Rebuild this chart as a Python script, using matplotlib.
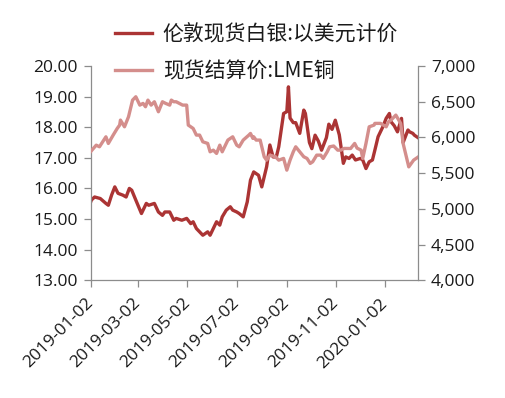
import matplotlib
matplotlib.use('Agg')
import matplotlib.pyplot as plt
import pandas as pd
from matplotlib.ticker import FuncFormatter, MultipleLocator
from matplotlib.font_manager import FontProperties

# 伦敦现货白银 (USD/oz), left axis
silver_dates = ['2019-01-02', '2019-01-03', '2019-01-07', '2019-01-14', '2019-01-21', '2019-01-24',
                '2019-01-28', '2019-02-01', '2019-02-05', '2019-02-11', '2019-02-15', '2019-02-19',
                '2019-02-22', '2019-02-27', '2019-03-06', '2019-03-12', '2019-03-15', '2019-03-22',
                '2019-03-27', '2019-04-01', '2019-04-04', '2019-04-10', '2019-04-15', '2019-04-18',
                '2019-04-25', '2019-05-01', '2019-05-06', '2019-05-09', '2019-05-13', '2019-05-17',
                '2019-05-21', '2019-05-27', '2019-05-30', '2019-06-03', '2019-06-07', '2019-06-11',
                '2019-06-14', '2019-06-19', '2019-06-24', '2019-06-27', '2019-07-02', '2019-07-05',
                '2019-07-10', '2019-07-15', '2019-07-19', '2019-07-23', '2019-07-29', '2019-08-02',
                '2019-08-05', '2019-08-08', '2019-08-12', '2019-08-16', '2019-08-20', '2019-08-23',
                '2019-08-29', '2019-09-02', '2019-09-04', '2019-09-06', '2019-09-10', '2019-09-13',
                '2019-09-18', '2019-09-23', '2019-09-25', '2019-09-30', '2019-10-03', '2019-10-07',
                '2019-10-11', '2019-10-15', '2019-10-21', '2019-10-24', '2019-10-28', '2019-11-01',
                '2019-11-06', '2019-11-11', '2019-11-14', '2019-11-18', '2019-11-22', '2019-11-26',
                '2019-12-02', '2019-12-05', '2019-12-09', '2019-12-13', '2019-12-17', '2019-12-20',
                '2019-12-24', '2019-12-30', '2020-01-03', '2020-01-07', '2020-01-09', '2020-01-13',
                '2020-01-17', '2020-01-22', '2020-01-24', '2020-01-30', '2020-02-01', '2020-02-05',
                '2020-02-07', '2020-02-12']
silver_vals = [15.55, 15.62, 15.72, 15.67, 15.51, 15.45,
               15.78, 16.05, 15.84, 15.78, 15.72, 16.00,
               15.94, 15.62, 15.18, 15.51, 15.45, 15.51,
               15.23, 15.12, 15.23, 15.23, 14.96, 15.02,
               14.96, 15.02, 14.85, 14.91, 14.69, 14.58,
               14.47, 14.58, 14.47, 14.69, 14.91, 14.80,
               15.07, 15.29, 15.40, 15.29, 15.23, 15.18,
               15.07, 15.56, 16.27, 16.54, 16.43, 16.05,
               16.38, 16.71, 17.42, 17.03, 17.03, 17.36,
               18.45, 18.51, 19.32, 18.30, 18.15, 18.15,
               17.80, 18.56, 18.45, 17.50, 17.30, 17.74,
               17.55, 17.25, 17.66, 18.10, 17.93, 18.23,
               17.75, 16.82, 17.03, 16.98, 17.09, 16.93,
               16.98, 16.93, 16.65, 16.87, 16.93, 17.25,
               17.69, 18.02, 18.29, 18.45, 18.18, 18.05,
               17.85, 18.29, 17.50, 17.91, 17.85, 17.80,
               17.74, 17.65]

# 现货结算价:LME铜 (USD/t), right axis
copper_dates = ['2019-01-02', '2019-01-09', '2019-01-13', '2019-01-21', '2019-01-24', '2019-01-30',
                '2019-02-04', '2019-02-07', '2019-02-08', '2019-02-13', '2019-02-18', '2019-02-21',
                '2019-02-23', '2019-02-27', '2019-03-04', '2019-03-08', '2019-03-11', '2019-03-14',
                '2019-03-18', '2019-03-22', '2019-03-27', '2019-04-01', '2019-04-05', '2019-04-10',
                '2019-04-12', '2019-04-15', '2019-04-18', '2019-04-26', '2019-05-01', '2019-05-03',
                '2019-05-09', '2019-05-13', '2019-05-17', '2019-05-21', '2019-05-27', '2019-05-30',
                '2019-06-03', '2019-06-07', '2019-06-11', '2019-06-14', '2019-06-21', '2019-06-27',
                '2019-07-02', '2019-07-05', '2019-07-10', '2019-07-17', '2019-07-19', '2019-07-22',
                '2019-07-23', '2019-07-26', '2019-07-31', '2019-08-05', '2019-08-08', '2019-08-12',
                '2019-08-19', '2019-08-23', '2019-08-29', '2019-09-02', '2019-09-06', '2019-09-10',
                '2019-09-13', '2019-09-18', '2019-09-23', '2019-09-27', '2019-10-01', '2019-10-04',
                '2019-10-09', '2019-10-14', '2019-10-17', '2019-10-22', '2019-10-25', '2019-10-30',
                '2019-11-04', '2019-11-08', '2019-11-12', '2019-11-20', '2019-11-25', '2019-11-28',
                '2019-12-03', '2019-12-05', '2019-12-09', '2019-12-13', '2019-12-19', '2019-12-20',
                '2019-12-27', '2020-01-03', '2020-01-06', '2020-01-09', '2020-01-15', '2020-01-21',
                '2020-01-24', '2020-01-31', '2020-02-06', '2020-02-12']
copper_vals = [5800, 5892, 5869, 6009, 5916, 6033,
               6126, 6173, 6243, 6149, 6290, 6430,
               6523, 6570, 6453, 6477, 6430, 6523,
               6453, 6500, 6360, 6500, 6477, 6453,
               6523, 6500, 6500, 6453, 6453, 6173,
               6126, 6033, 6033, 5939, 5916, 5799,
               5822, 5776, 5892, 5799, 5963, 6009,
               5892, 5869, 5963, 6033, 6056, 5986,
               6009, 5963, 5963, 5729, 5682, 5752,
               5729, 5682, 5706, 5542, 5682, 5799,
               5869, 5799, 5729, 5706, 5636, 5659,
               5752, 5752, 5706, 5799, 5869, 5880,
               5822, 5822, 5846, 5845, 5916, 5850,
               5822, 5706, 5916, 6149, 6173, 6197,
               6197, 6149, 6220, 6243, 6313, 6197,
               5916, 5588, 5682, 5729]

silver_label = '伦敦现货白银:以美元计价'
copper_label = '现货结算价:LME铜'
x_ticks = ['2019-01-02', '2019-03-02', '2019-05-02', '2019-07-02',
           '2019-09-02', '2019-11-02', '2020-01-02']

silver_color = '#AB3434'
copper_color = '#D48E8C'
axis_color = '#8C8C8C'
text_color = '#1A1A1A'
tick_font = FontProperties(family=['Open Sans', 'DejaVu Sans'], size=12.5)

fig = plt.figure(figsize=(5.06, 3.98), dpi=100)
ax = fig.add_axes([0.179, 0.296, 0.648, 0.538])
ax2 = ax.twinx()

l1, = ax.plot(pd.to_datetime(silver_dates), silver_vals, color=silver_color, lw=2.4,
              solid_joinstyle='round')
l2, = ax2.plot(pd.to_datetime(copper_dates), copper_vals, color=copper_color, lw=2.4,
               solid_joinstyle='round')

ax.set_xlim(pd.Timestamp('2019-01-02'), pd.Timestamp('2020-02-12'))
ax.set_ylim(13, 20)
ax2.set_ylim(4000, 7000)
ax.yaxis.set_major_locator(MultipleLocator(1))
ax2.yaxis.set_major_locator(MultipleLocator(500))
ax.yaxis.set_major_formatter(FuncFormatter(lambda v, p: f'{v:.2f}'))
ax2.yaxis.set_major_formatter(FuncFormatter(lambda v, p: f'{v:,.0f}'))

ax.set_xticks(pd.to_datetime(x_ticks))
ax.set_xticklabels(x_ticks, rotation=45, ha='right', va='center', rotation_mode='anchor')

for a in (ax, ax2):
    a.spines['top'].set_visible(False)
    for s in a.spines.values():
        s.set_color(axis_color)
        s.set_linewidth(0.9)
    a.tick_params(direction='out', length=5, width=0.9, color=axis_color,
                  labelcolor=text_color, pad=4)
    for lab in a.get_xticklabels() + a.get_yticklabels():
        lab.set_fontproperties(tick_font)
ax2.spines['left'].set_visible(False)
ax2.spines['bottom'].set_visible(False)
ax.spines['right'].set_visible(False)
ax.tick_params(axis='x', pad=10)

fig.legend(handles=[l1, l2], labels=[silver_label, copper_label], loc='upper left',
           bbox_to_anchor=(0.227, 0.942), frameon=False,
           prop=FontProperties(family=['Noto Sans CJK SC', 'DejaVu Sans'], size=15),
           handlelength=1.8, handletextpad=0.5, labelspacing=0.75,
           borderpad=0, borderaxespad=0, labelcolor=text_color)

fig.savefig('out.png', dpi=100)
